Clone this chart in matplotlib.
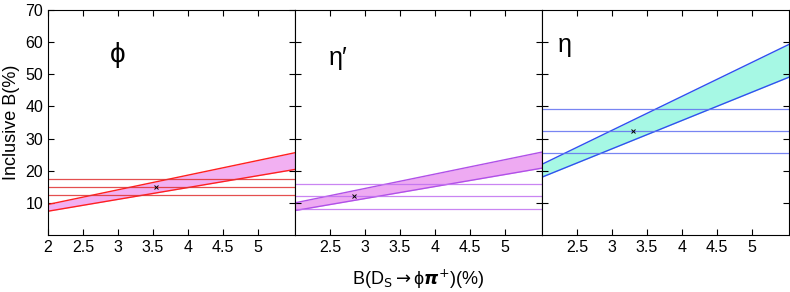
import numpy as np
import matplotlib
matplotlib.use('Agg')
from matplotlib import pyplot as plt

plt.rcParams['font.family'] = ['Liberation Sans', 'DejaVu Sans']

# x range of B(Ds -> phi pi+) in %
x_ends = [2.0, 5.53]

labels = ['\u03d5', '\u03b7\u2032', '\u03b7']
# band edges at the two x ends: (lower, upper)
band_lo = [[7.4, 20.4], [7.6, 20.8], [18.0, 49.1]]
band_hi = [[9.5, 25.6], [10.0, 25.8], [22.0, 59.3]]
# horizontal measurement lines (central, +err, -err)
hlines = [[15.0, 17.5, 12.5], [12.1, 16.0, 8.0], [32.5, 39.1, 25.5]]
points_x = [3.55, 2.85, 3.30]

fill_colors = ['#f2b0f2', '#eeaaf2', '#a6f8e4']
edge_colors = ['#ff2020', '#b050e8', '#3050f0']
line_colors = ['#e03030', '#c070f0', '#6070f0']
label_pos = [(3.0, 56), (2.62, 55), (2.32, 59)]
label_size = [20, 18, 18]

fig = plt.figure(figsize=(7.9, 2.92), dpi=100)
w = 247 / 790
for i in range(3):
    ax = fig.add_axes([48 / 790 + i * w, 1 - 235 / 292, w, 225 / 292])
    ax.fill_between(x_ends, band_lo[i], band_hi[i], color=fill_colors[i], lw=0)
    ax.plot(x_ends, band_lo[i], color=edge_colors[i], lw=1)
    ax.plot(x_ends, band_hi[i], color=edge_colors[i], lw=1)
    for h in hlines[i]:
        ax.axhline(h, color=line_colors[i], lw=0.9, alpha=0.85)
    ax.plot(points_x[i], hlines[i][0], 'x', color='black', ms=3, mew=0.7)
    ax.text(label_pos[i][0], label_pos[i][1], labels[i], fontsize=label_size[i],
            ha='center', va='center')
    ax.set_xlim(x_ends)
    ax.set_ylim(0, 70)
    ax.tick_params(direction='in', top=True, right=True, labelsize=11.5, length=4)
    if i == 0:
        ax.set_xticks([2, 2.5, 3, 3.5, 4, 4.5, 5])
        ax.set_xticklabels(['2', '2.5', '3', '3.5', '4', '4.5', '5'])
        ax.set_yticks([10, 20, 30, 40, 50, 60, 70])
        ax.set_ylabel('Inclusive B(%)', fontsize=13)
    else:
        ax.set_xticks([2.5, 3, 3.5, 4, 4.5, 5])
        ax.set_xticklabels(['2.5', '3', '3.5', '4', '4.5', '5'])
        ax.set_yticks([10, 20, 30, 40, 50, 60])
        ax.set_yticklabels([])
    if i == 1:
        ax.set_xlabel('B(D$_{\\mathrm{S}}$$\\rightarrow$\u03d5$\\boldsymbol{\\pi}^{+}$)(%)',
                      fontsize=13, labelpad=9)

fig.savefig('out.png', dpi=100)
